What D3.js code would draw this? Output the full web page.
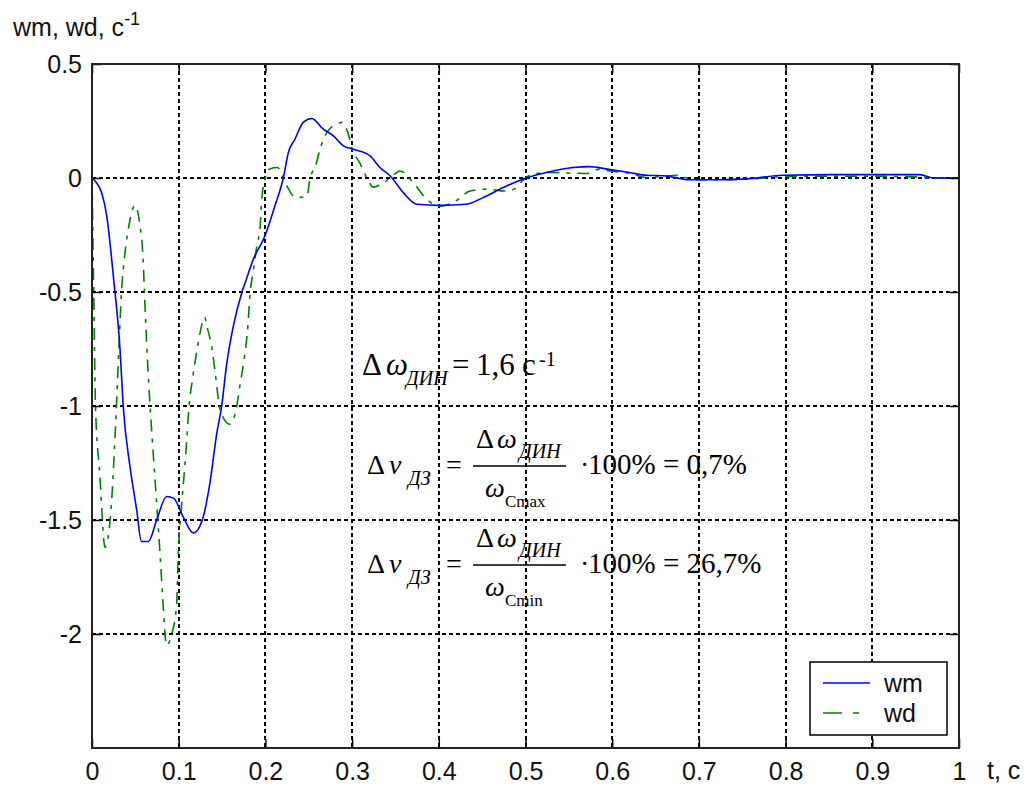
<!DOCTYPE html>
<html>
<head>
<meta charset="utf-8">
<script src="https://cdn.jsdelivr.net/npm/d3@7"></script>
<style>
  html, body { margin: 0; padding: 0; background: #fff; }
  svg { display: block; }
  .tick-label { font-family: "Liberation Sans", Arial, sans-serif; font-size: 25px; fill: #111; }
  .formula { font-family: "Liberation Serif", "Times New Roman", serif; fill: #000; }
</style>
</head>
<body>
<svg id="chart" width="1035" height="787"></svg>
<script>
// Time axis, s
const tWm = [0, 0.005, 0.011, 0.017, 0.0246, 0.0323, 0.036, 0.0438, 0.0515, 0.057, 0.065, 0.0746, 0.086, 0.094,
  0.105, 0.117, 0.128, 0.136, 0.144, 0.1496, 0.155, 0.163, 0.173, 0.178, 0.186, 0.1995, 0.211, 0.2207, 0.2265,
  0.234, 0.2437, 0.2534, 0.2668, 0.2784, 0.29, 0.3015, 0.3207, 0.332, 0.344, 0.359, 0.3745, 0.401, 0.432, 0.451,
  0.478, 0.501, 0.524, 0.555, 0.574, 0.594, 0.62, 0.64, 0.659, 0.678, 0.686, 0.717, 0.755, 0.797, 0.855, 0.955,
  0.97, 1.0];
// Motor speed deviation wm, 1/s
const wm = [0, -0.02, -0.064, -0.166, -0.43, -0.75, -1.0, -1.265, -1.455, -1.594, -1.594, -1.5, -1.397, -1.404,
  -1.485, -1.557, -1.49, -1.338, -1.118, -1.0, -0.826, -0.65, -0.5, -0.445, -0.357, -0.254, -0.122, 0, 0.112,
  0.17, 0.244, 0.261, 0.214, 0.185, 0.141, 0.126, 0.097, 0.046, 0.009, -0.064, -0.115, -0.12, -0.115, -0.086,
  -0.035, 0, 0.024, 0.046, 0.05, 0.039, 0.024, 0.012, 0.01, -0.002, -0.008, -0.008, -0.004, 0.012, 0.015, 0.015,
  0, 0];

const tWd = [0, 0.002, 0.004, 0.009, 0.015, 0.022, 0.027, 0.031, 0.034, 0.038, 0.043, 0.0496, 0.055, 0.059,
  0.061, 0.064, 0.067, 0.071, 0.075, 0.079, 0.082, 0.086, 0.092, 0.0976, 0.0995, 0.103, 0.108, 0.112, 0.116,
  0.12, 0.1246, 0.13, 0.1325, 0.138, 0.142, 0.148, 0.159, 0.167, 0.171, 0.1745, 0.178, 0.18, 0.182, 0.186, 0.19,
  0.194, 0.1955, 0.1995, 0.205, 0.214, 0.221, 0.232, 0.236, 0.248, 0.251, 0.259, 0.263, 0.271, 0.282, 0.288,
  0.2957, 0.2995, 0.309, 0.319, 0.324, 0.334, 0.349, 0.355, 0.3706, 0.386, 0.401, 0.42, 0.436, 0.455, 0.478,
  0.49, 0.496, 0.509, 0.528, 0.57, 0.586, 0.597, 0.62, 0.64, 0.676, 0.686, 0.701, 0.75, 0.801, 0.873, 0.95,
  0.97, 1.0];
// Drive-side speed deviation wd, 1/s
const wd = [0, -0.5, -1.0, -1.3, -1.62, -1.45, -1.1, -0.75, -0.5, -0.33, -0.2, -0.12, -0.2, -0.36,
  -0.55, -0.8, -1.0, -1.23, -1.45, -1.68, -1.87, -2.05, -2.0, -1.87, -1.65, -1.45, -1.22, -1.0, -0.88,
  -0.78, -0.68, -0.61, -0.65, -0.74, -0.85, -1.02, -1.08, -1.0, -0.9, -0.82, -0.72, -0.64, -0.52, -0.41, -0.3,
  -0.21, -0.107, -0.005, 0.04, 0.046, -0.005, -0.079, -0.086, -0.079, -0.013, 0.068, 0.126, 0.2, 0.236, 0.244,
  0.192, 0.134, 0.065, -0.013, -0.04, -0.027, 0.017, 0.031, -0.02, -0.093, -0.125, -0.1, -0.057, -0.049, -0.057,
  -0.042, -0.013, 0.017, 0.024, 0.02, 0.039, 0.031, 0.02, 0.002, 0.012, 0.0, -0.008, -0.006, 0.006, 0.008, 0.005,
  0, 0];

const xTicks = [0, 0.1, 0.2, 0.3, 0.4, 0.5, 0.6, 0.7, 0.8, 0.9, 1];
const xTickLabels = ["0", "0.1", "0.2", "0.3", "0.4", "0.5", "0.6", "0.7", "0.8", "0.9", "1"];
const yTicks = [0.5, 0, -0.5, -1, -1.5, -2];
const yTickLabels = ["0.5", "0", "-0.5", "-1", "-1.5", "-2"];
const seriesNames = ["wm", "wd"];
const seriesColors = ["#0000ff", "#008000"];

const svg = d3.select("#chart");
const x = d3.scaleLinear().domain([0, 1]).range([92, 959]);
const y = d3.scaleLinear().domain([-2.5, 0.5]).range([748, 64]);
const [xl, xr] = x.range();
const [yb, yt] = y.range();
const px = v => Math.round(v);

// Dotted grid
const grid = svg.append("g").attr("stroke", "#000").attr("stroke-width", 2)
  .attr("stroke-dasharray", "4,3").attr("fill", "none").attr("shape-rendering", "crispEdges");
grid.selectAll("line.gx").data(xTicks.slice(1, -1)).join("line")
  .attr("x1", d => px(x(d))).attr("x2", d => px(x(d))).attr("y1", yt).attr("y2", yb);
grid.selectAll("line.gy").data(yTicks.slice(1)).join("line")
  .attr("y1", d => px(y(d))).attr("y2", d => px(y(d))).attr("x1", xl).attr("x2", xr);

// Curves
svg.append("clipPath").attr("id", "plotClip").append("rect")
  .attr("x", xl).attr("y", yt).attr("width", xr - xl).attr("height", yb - yt);
const line = d3.line().x(d => x(d[0])).y(d => y(d[1])).curve(d3.curveMonotoneX);
const plot = svg.append("g").attr("clip-path", "url(#plotClip)");
plot.append("path").datum(d3.zip(tWd, wd)).attr("d", line)
  .attr("fill", "none").attr("stroke", seriesColors[1]).attr("stroke-width", 1.6)
  .attr("stroke-dasharray", "12,7,4,7");
plot.append("path").datum(d3.zip(tWm, wm)).attr("d", line)
  .attr("fill", "none").attr("stroke", seriesColors[0]).attr("stroke-width", 1.6);

// Axes box with inward ticks on all sides
const tickLen = 9;
const axes = svg.append("g");
axes.append("g").attr("transform", `translate(0,${yb})`)
  .call(d3.axisBottom(x).tickValues(xTicks).tickSize(-tickLen).tickFormat((d, i) => xTickLabels[i]).tickPadding(14));
axes.append("g").attr("transform", `translate(0,${yt})`)
  .call(d3.axisTop(x).tickValues(xTicks).tickSize(-tickLen).tickFormat(""));
axes.append("g").attr("transform", `translate(${xl},0)`)
  .call(d3.axisLeft(y).tickValues(yTicks).tickSize(-tickLen).tickFormat((d, i) => yTickLabels[i]).tickPadding(10));
axes.append("g").attr("transform", `translate(${xr},0)`)
  .call(d3.axisRight(y).tickValues(yTicks).tickSize(-tickLen).tickFormat(""));
axes.selectAll(".domain").remove();
axes.selectAll(".tick line").attr("stroke", "#000").attr("stroke-width", 1.5);
axes.selectAll(".tick text").attr("class", "tick-label").attr("font-size", null).attr("font-family", null).attr("fill", null);
axes.append("rect").attr("x", xl).attr("y", yt).attr("width", xr - xl).attr("height", yb - yt)
  .attr("fill", "none").attr("stroke", "#222").attr("stroke-width", 2);

// Axis titles
const yTitle = svg.append("text").attr("class", "tick-label").attr("x", 13).attr("y", 36);
yTitle.append("tspan").text("wm, wd, с");
yTitle.append("tspan").attr("dy", -11).attr("font-size", 18).text("-1");
svg.append("text").attr("class", "tick-label").attr("x", 987).attr("y", 779).text("t, с");

// Legend
const lg = svg.append("g");
lg.append("rect").attr("x", 810).attr("y", 662).attr("width", 137).attr("height", 73)
  .attr("fill", "#fff").attr("stroke", "#000").attr("stroke-width", 1.5);
const legendRows = [683, 713];
seriesNames.forEach((name, i) => {
  lg.append("line").attr("x1", 823).attr("x2", 870).attr("y1", legendRows[i]).attr("y2", legendRows[i])
    .attr("stroke", seriesColors[i]).attr("stroke-width", 1.6)
    .attr("stroke-dasharray", i === 1 ? "19,11,6,40" : null);
  lg.append("text").attr("class", "tick-label").attr("x", 884).attr("y", legendRows[i])
    .attr("dominant-baseline", "central").text(name);
});

// Formulas
const f = svg.append("g").attr("class", "formula");
function txt(xp, yp, s, size, italic) {
  return f.append("text").attr("x", xp).attr("y", yp).attr("font-size", size)
    .attr("font-style", italic ? "italic" : "normal").text(s);
}
// Δω_дин = 1,6 с^-1
txt(362, 375, "Δ", 31, false);
txt(386, 375, "ω", 31, true);
txt(406, 385, "ДИН", 20, true);
txt(452, 375, "=", 31, false);
txt(476, 375, "1,6", 31, false);
txt(522, 375, "с", 31, false);
txt(539, 366, "-1", 20, false);

// Δν_дз = Δω_дин / ω_Cmax · 100% = value
const fractionRows = [
  { base: 474, denom: "Cmax", result: "100% = 0,7%" },
  { base: 573, denom: "Cmin", result: "100% = 26,7%" }
];
const rowTop = 474;
fractionRows.forEach(r => {
  const o = r.base - rowTop;
  txt(367, 474 + o, "Δ", 28, false);
  txt(389, 474 + o, "ν", 28, true);
  txt(408, 485 + o, "ДЗ", 20, true);
  txt(446, 474 + o, "=", 28, false);
  txt(476, 448 + o, "Δ", 28, false);
  txt(497, 448 + o, "ω", 28, true);
  txt(519, 458 + o, "ДИН", 20, true);
  f.append("line").attr("x1", 473).attr("x2", 566).attr("y1", 466 + o).attr("y2", 466 + o)
    .attr("stroke", "#000").attr("stroke-width", 1.3);
  txt(485, 497 + o, "ω", 28, true);
  txt(505, 507 + o, r.denom, 17, false);
  txt(580, 474 + o, "·", 28, false);
  txt(588, 474 + o, r.result, 29, false);
});
</script>
</body>
</html>
